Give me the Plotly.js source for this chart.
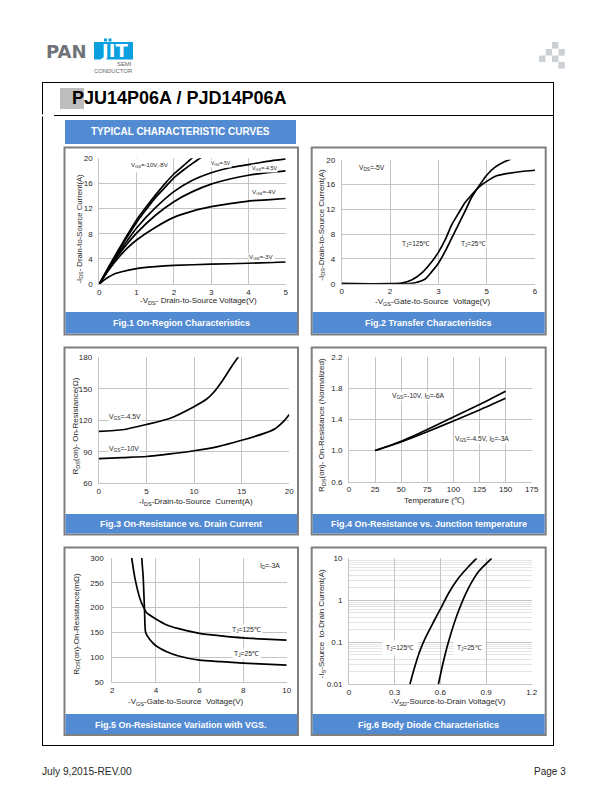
<!DOCTYPE html>
<html><head><meta charset="utf-8">
<style>html,body{margin:0;padding:0;background:#fff}</style>
<script src="https://cdn.plot.ly/plotly-3.0.1.min.js"></script></head>
<body><div id="chart" style="width:612px;height:792px"></div>
<script>
// Fig.1 On-Region Characteristics
const fig1V10x=[0,0.25,0.5,0.75,1,1.25,1.5,1.75,2,2.25,2.5];
const fig1V10y=[0,2.7,5.3,7.8,10.2,12.2,14.1,15.9,17.5,18.8,20.1];
const fig1V8x=[0,0.25,0.5,0.75,1,1.25,1.5,1.75,2,2.25,2.5,2.75];
const fig1V8y=[0,2.6,5.1,7.5,9.8,11.8,13.7,15.3,16.9,18.1,19.2,20.2];
const fig1V5x=[0,0.25,0.5,0.75,1,1.5,2,2.5,3,3.5,4,4.5,5];
const fig1V5y=[0,2.5,4.8,6.9,8.9,12.1,14.7,16.5,17.7,18.5,19,19.5,19.9];
const fig1V45y=[0,2.4,4.5,6.4,8.1,10.9,13.1,14.7,15.9,16.7,17.3,17.7,18];
const fig1V4y=[0,2.2,4.1,5.7,7,9,10.6,11.6,12.3,12.8,13.2,13.4,13.6];
const fig1V3x=[0,0.1,0.25,0.4,0.6,1,1.5,2,3,4,5];
const fig1V3y=[0,0.5,1.1,1.6,1.95,2.45,2.75,2.95,3.15,3.3,3.5];
// Fig.2 Transfer Characteristics
const fig2T125x=[0,1.5,1.86,2.17,2.48,2.79,3,3.21,3.41,3.62,3.83,4.03,4.24,4.5,4.81,5.17,5.58,6];
const fig2T125y=[0,0,0.1,0.6,1.7,3.5,5.05,7.05,9.46,11.3,13.1,14.3,15.5,16.5,17.4,17.8,18.1,18.3];
const fig2T25x=[0,2,2.28,2.59,2.79,3,3.21,3.41,3.62,3.83,4.03,4.24,4.5,4.76,5.02,5.26];
const fig2T25y=[0,0,0.15,0.75,1.9,3.3,5.2,7.3,9.5,11.7,13.9,15.6,17.5,18.8,19.6,20.1];
const fig2TickVals=[0,1.5,3,4.5,6];
const fig2TickText=['0','2','3','5','6'];
// Fig.3 On-Resistance vs. Drain Current
const fig3V45x=[0,2.5,5,7.5,10,11.3,12,13,14,14.7];
const fig3V45y=[109.5,111,116,122,133,140,146,158,172,181];
const fig3V10x=[0,2.5,5,7.5,10,12.5,15,17.5,18.5,19.5,20];
const fig3V10y=[83.5,84.5,85.5,88,91,95,101,108,112,120,125.5];
// Fig.4 On-Resistance vs. Junction temperature
const fig4Temp=[25,50,75,100,125,150];
const fig4V10=[1,1.12,1.27,1.43,1.59,1.76];
const fig4V45=[1,1.11,1.24,1.38,1.52,1.67];
// Fig.5 On-Resistance Variation with VGS
const fig5T125x=[2.89,3.04,3.27,3.42,3.57,4,4.5,5,6,7,8,9,10];
const fig5T125y=[300,259,218,202,190,177,165,158,148,143,139,136.5,134.5];
const fig5T25x=[3.35,3.42,3.48,3.53,3.73,4,4.5,5,6,7,8,9,10];
const fig5T25y=[300,259,192,150,135,123,111,103,94,91,88,86,84];
// Fig.6 Body Diode Characteristics
const fig6T125x=[0.4,0.429,0.46,0.5,0.554,0.609,0.653,0.718,0.784,0.838];
const fig6T125y=[0.01,0.024,0.055,0.124,0.3,0.71,1.45,3.34,6.3,10];
const fig6T25x=[0.587,0.62,0.657,0.718,0.784,0.85,0.937];
const fig6T25y=[0.01,0.035,0.114,0.54,1.93,4.8,10];

const W=612,H=792;
const px=x=>x/W, py=y=>1-y/H;
const GRID='#c4c4c4',TXT='#262626',BLUE='#538bd3',FONT='"Liberation Sans",Arial,sans-serif';
const shapes=[],ann=[],layout={};
function rect(x0,y0,x1,y1,fill,lineColor,lw){shapes.push({type:'rect',xref:'paper',yref:'paper',layer:'below',x0:px(x0),x1:px(x1),y0:py(y0),y1:py(y1),fillcolor:fill||'rgba(0,0,0,0)',line:{color:lineColor||'rgba(0,0,0,0)',width:lw||0}});}
function line(x0,y0,x1,y1,c,w){shapes.push({type:'line',xref:'paper',yref:'paper',layer:'below',x0:px(x0),x1:px(x1),y0:py(y0),y1:py(y1),line:{color:c,width:w}});}
function text(t,x,y,size,opt){opt=opt||{};ann.push({text:t,xref:'paper',yref:'paper',x:px(x),y:py(y),xanchor:opt.anchor||'center',yanchor:'middle',showarrow:false,textangle:opt.angle||0,bgcolor:opt.bg||'rgba(0,0,0,0)',borderpad:opt.pad||0,font:{family:opt.family||FONT,size:size,color:opt.color||TXT}});}

// page furniture
line(42.5,82,42.5,114.5,'#000',1);line(42.5,116.5,42.5,746,'#000',1);
line(42,82.5,554,82.5,'#000',1);line(553.5,82,553.5,746,'#000',1);line(42,745.5,554,745.5,'#000',1);
line(54,115.5,554,115.5,'#000',1);
rect(60,88,84,109,'#bdbdbd');
text('<b>PJU14P06A / PJD14P06A</b>',71,98.5,18,{anchor:'left',color:'#000'});
rect(65,120,296,144,BLUE);
text('<b>TYPICAL CHARACTERISTIC CURVES</b>',180.5,131.5,10,{color:'#fff'});
text('July 9,2015-REV.00',40.5,771,10.2,{anchor:'left'});
text('Page 3',567,771,10,{anchor:'right'});
// logo
const LOGO='"DejaVu Sans",sans-serif';
text('<b>PAN</b>',44.5,51,18,{anchor:'left',color:'#6f7378',family:LOGO});
rect(94,42,133,59.5,'#0a9fde');
text('<b>JIT</b>',114,50,18,{color:'#fff',family:LOGO});
rect(104,38.5,107,41.5,'#0a9fde');rect(108.5,38.5,111.5,41.5,'#0a9fde');
text('SEMI',133,64.3,5.9,{anchor:'right',color:'#666'});
text('CONDUCTOR',133,70.8,5.9,{anchor:'right',color:'#666'});
// corner pattern
[[552,42],[545.7,49],[558.4,49],[539,55.5],[552,55.5],[558.4,62]].forEach(p=>rect(p[0],p[1],p[0]+6.4,p[1]+6.6,'#ccd0d5'));

const panels=[
 {box:[64.5,147.5,298,334.5],cap:312,capText:'Fig.1 On-Region Characteristics',plot:[99.3,158.3,285.7,284]},
 {box:[311.7,147.5,545.7,334.5],cap:312,capText:'Fig.2 Transfer Characteristics',plot:[341.7,159.7,535,283.7]},
 {box:[64.5,347.5,298,534.5],cap:514,capText:'Fig.3 On-Resistance vs. Drain Current',plot:[98.7,357.3,289.3,483.3]},
 {box:[311.7,347.5,545.7,534.5],cap:514,capText:'Fig.4 On-Resistance vs. Junction temperature',plot:[349,357,531.7,481.7]},
 {box:[64.5,547.5,298,735],cap:714,capText:'Fig.5 On-Resistance Variation with VGS.',plot:[112.3,558,286.7,682],yStand:6},
 {box:[311.7,547.5,545.7,735],cap:714,capText:'Fig.6 Body Diode Characteristics',plot:[349,558.3,531.7,684.3]}
];
const axes=[
 {x:{range:[0,5],dtick:1,tick0:0},y:{range:[0,20],dtick:4,tick0:0}},
 {x:{range:[0,6],tickvals:fig2TickVals,ticktext:fig2TickText},y:{range:[0,20],dtick:4,tick0:0}},
 {x:{range:[0,20],dtick:5,tick0:0},y:{range:[60,180],dtick:30,tick0:60}},
 {x:{range:[0,175],dtick:25,tick0:0},y:{range:[0.6,2.2],dtick:0.4,tick0:0.6,tickformat:'.1f'}},
 {x:{range:[2,10],dtick:2,tick0:2},y:{range:[50,300],dtick:50,tick0:50}},
 {x:{range:[0,1.2],tickvals:[0,0.3,0.6,0.9,1.2],ticktext:['0','0.3','0.6','0.9','1.2']},y:{type:'log',range:[-2,1],tickvals:[0.01,0.1,1,10],ticktext:['0.01','0.1','1','10'],minor:{showgrid:true,gridcolor:'#d4d4d4',gridwidth:0.6,tickvals:[0.02,0.03,0.04,0.05,0.06,0.07,0.08,0.09,0.2,0.3,0.4,0.5,0.6,0.7,0.8,0.9,2,3,4,5,6,7,8,9]}}}
];
panels.forEach((p,i)=>{
 const b=p.box;
 rect(b[0],b[1],b[2],b[3],'#fff','#7f7f7f',2);
 rect(b[0]+1,p.cap,b[2]-1,b[3]-1,BLUE);
 text('<b>'+p.capText+'</b>',(b[0]+b[2])/2,(p.cap+b[3])/2,9,{color:'#fff'});
 const n=i?i+1:'',a=axes[i],P=p.plot;
 const common={showgrid:true,gridcolor:GRID,gridwidth:1,showline:true,linecolor:GRID,linewidth:1,zeroline:false,ticks:'',tickfont:{family:FONT,size:8,color:TXT},layer:'below traces'};
 layout['xaxis'+n]={...common,...a.x,domain:[px(P[0]),px(P[2])],anchor:'y'+n,ticklabelstandoff:0};
 layout['yaxis'+n]={...common,...a.y,domain:[py(P[3]),py(P[1])],anchor:'x'+n,ticklabelstandoff:p.yStand||4};
});
// axis titles
const V={angle:-90};
text('-V<sub>DS</sub>- Drain-to-Source Voltage(V)',198.3,301.5,8);
text('-I<sub>DS</sub>- Drain-to-Source Current(A)',79,228.5,7.7,V);
text('-V<sub>GS</sub>-Gate-to-Source  Voltage(V)',433.3,302,8);
text('-I<sub>DS</sub>-Drain-to-Source Current(A)',321.7,225,8,V);
text('-I<sub>DS</sub>-Drain-to-Source  Current(A)',195.7,502,8);
text('R<sub>DS</sub>(on)- On-Resistance(Ω)',75.7,425.8,8,V);
text('Temperature (℃)',434.3,500.7,8);
text('R<sub>DS</sub>(on)- On-Resistance (Normalized)',322.7,425.3,8,V);
text('-V<sub>GS</sub>-Gate-to-Source  Voltage(V)',186,701.7,8);
text('R<sub>DS</sub>(on)-On-Resistance(mΩ)',76.7,624,8,V);
text('-V<sub>SD</sub>-Source-to-Drain Voltage(V)',448.3,702.3,8);
text('-I<sub>S</sub>-Source  to-Drain Current(A)',321.7,623.7,8,V);

const S={color:'#000',width:1.7,shape:'spline',smoothing:0.6};
const tr=(name,x,y,k)=>({type:'scatter',mode:'lines',name,x,y,xaxis:'x'+(k>1?k:''),yaxis:'y'+(k>1?k:''),line:S,hoverinfo:'skip'});
const data=[
 tr('VGS=-10V',fig1V10x,fig1V10y,1),tr('VGS=-8V',fig1V8x,fig1V8y,1),tr('VGS=-5V',fig1V5x,fig1V5y,1),
 tr('VGS=-4.5V',fig1V5x,fig1V45y,1),tr('VGS=-4V',fig1V5x,fig1V4y,1),tr('VGS=-3V',fig1V3x,fig1V3y,1),
 tr('TJ=125',fig2T125x,fig2T125y,2),tr('TJ=25',fig2T25x,fig2T25y,2),
 tr('VGS=-4.5V',fig3V45x,fig3V45y,3),tr('VGS=-10V',fig3V10x,fig3V10y,3),
 tr('VGS=-10V, ID=-6A',fig4Temp,fig4V10,4),tr('VGS=-4.5V, ID=-3A',fig4Temp,fig4V45,4),
 tr('TJ=125',fig5T125x,fig5T125y,5),tr('TJ=25',fig5T25x,fig5T25y,5),
 tr('TJ=125',fig6T125x,fig6T125y,6),tr('TJ=25',fig6T25x,fig6T25y,6)
];
// curve labels (white background hides the grid)
const L={bg:'#fff'},W3={bg:'#fff',pad:3};
text('V<sub>GS</sub>=-10V,-8V',149.5,165,6,W3);
text('V<sub>GS</sub>=-5V',221,163.5,5,L);
text('V<sub>GS</sub>=-4.5V',264.7,168.5,5.4,L);
text('V<sub>GS</sub>=-4V',264,192,6.2,L);
text('V<sub>GS</sub>=-3V',261.7,256.7,6.2,L);
text('V<sub>DS</sub>=-5V',371.7,168.3,6.7,L);
text('T<sub>J</sub>=125℃',415.7,244.3,6.6,L);
text('T<sub>J</sub>=25℃',473.3,244.3,6.6,L);
text('V<sub>GS</sub>=-4.5V',125.3,417.3,6.8,L);
text('V<sub>GS</sub>=-10V',124.3,449.3,6.8,L);
text('V<sub>GS</sub>=-10V, I<sub>D</sub>=-6A',417.7,395.7,6.7,L);
text('V<sub>GS</sub>=-4.5V, I<sub>D</sub>=-3A',482,438.7,6.7,L);
text('I<sub>D</sub>=-3A',270,565.7,6.8,L);
text('T<sub>J</sub>=125℃',246.7,630,6.8,{bg:'#fff',pad:1});
text('T<sub>J</sub>=25℃',246,654,6.8,{bg:'#fff',pad:1});
text('T<sub>J</sub>=125℃',400.3,647.7,6.6,W3);
text('T<sub>J</sub>=25℃',469.7,648,6.6,W3);

Plotly.newPlot('chart',data,Object.assign(layout,{width:W,height:H,margin:{l:0,r:0,t:0,b:0},autosize:false,paper_bgcolor:'#fff',plot_bgcolor:'rgba(0,0,0,0)',showlegend:false,shapes,annotations:ann,font:{family:FONT}}),{staticPlot:true,displayModeBar:false});
</script></body></html>
